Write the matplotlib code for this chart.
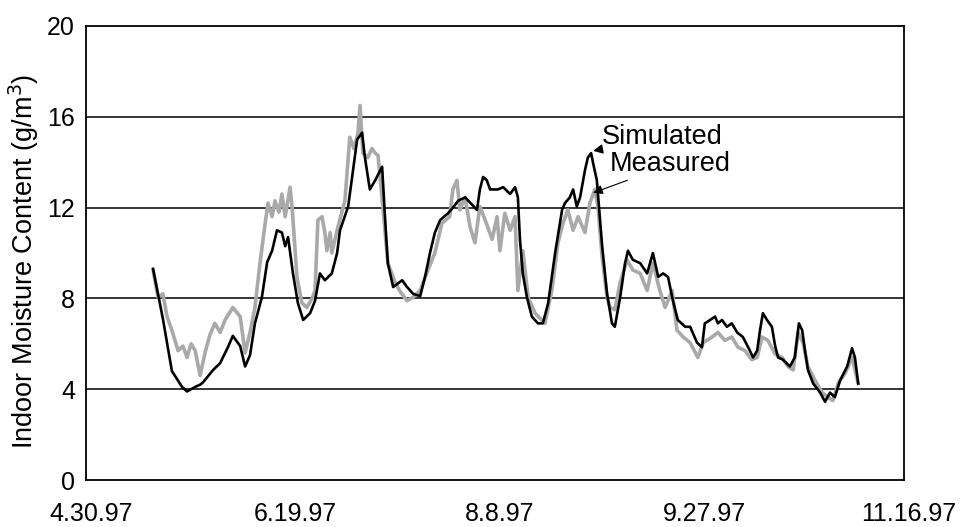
import matplotlib
matplotlib.use("Agg")
import matplotlib.pyplot as plt
import matplotlib.transforms as mtransforms

plt.rcParams['font.family'] = ['Liberation Sans', 'DejaVu Sans']

# days since 4.30.97
sim_days = [16.4, 18.8, 21.0, 23.5, 24.7, 26.7, 27.9, 28.6, 31.1, 32.8, 34.7, 35.9, 37.7, 38.9,
            40.1, 41.3, 43.0, 44.3, 45.5, 46.7, 47.9, 48.7, 49.4, 50.6, 51.8, 53.1, 54.8, 56.0,
            57.2, 58.4, 60.1, 61.4, 62.1, 64.1, 66.3, 67.5, 68.2, 69.4, 70.7, 72.4, 73.1, 73.8,
            75.1, 77.3, 78.5, 80.0, 81.7, 82.9, 84.1, 85.3, 86.6, 88.5, 89.5, 91.0, 92.7, 95.6,
            96.3, 97.1, 98.0, 98.8, 100.7, 102.0, 103.7, 104.9, 105.6, 106.1, 106.8, 107.8,
            109.0, 110.5, 111.7, 113.0, 114.7, 116.4, 117.1, 118.3, 119.1, 120.0, 120.8, 122.0,
            122.7, 123.5, 124.0, 124.9, 126.2, 127.4, 128.6, 129.3, 130.6, 131.8, 132.5, 133.7,
            135.5, 137.2, 138.6, 139.9, 141.1, 142.3, 143.5, 144.7, 146.5, 147.7, 149.4, 150.6,
            151.3, 152.6, 153.8, 154.5, 155.5, 156.7, 157.9, 159.2, 160.6, 161.9, 163.1, 164.1,
            164.8, 165.5, 166.5, 167.7, 168.5, 169.2, 170.4, 172.1, 173.3, 174.3, 175.1, 175.8,
            176.5, 177.8, 179.5, 180.7, 181.9, 183.1, 184.4, 186.1, 187.3, 188.0, 188.8]
simulated = [9.3, 7.1, 4.8, 4.1, 3.9, 4.1, 4.2, 4.3, 4.85, 5.15, 5.85, 6.35, 5.9, 5.0,
             5.5, 6.9, 8.05, 9.6, 10.1, 11.0, 10.9, 10.3, 10.7, 9.1, 7.8, 7.05, 7.35, 7.9,
             9.1, 8.8, 9.1, 10.0, 11.0, 12.05, 15.0, 15.3, 14.2, 12.8, 13.2, 13.8, 11.6, 9.55,
             8.5, 8.8, 8.5, 8.2, 8.1, 8.95, 10.0, 10.9, 11.45, 11.75, 11.95, 12.3, 12.45, 11.9,
             12.8, 13.35, 13.2, 12.8, 12.8, 12.9, 12.6, 12.9, 12.45, 10.6, 9.1, 8.05,
             7.2, 6.9, 6.9, 7.8, 10.0, 11.9, 12.2, 12.45, 12.8, 12.05, 12.45, 13.65,
             14.2, 14.4, 13.95, 13.2, 10.3, 8.2, 6.9, 6.75, 8.05, 9.55, 10.1, 9.7,
             9.55, 9.1, 10.0, 8.95, 9.1, 8.95, 7.9, 7.05, 6.75, 6.75, 6.05, 5.85,
             6.9, 7.05, 7.2, 6.9, 7.05, 6.75, 6.9, 6.5, 6.3, 5.85, 5.4, 5.7,
             6.6, 7.35, 7.05, 6.75, 5.9, 5.4, 5.3, 5.0, 5.4, 6.9, 6.6, 5.7,
             4.85, 4.25, 3.85, 3.45, 3.85, 3.65, 4.4, 5.0, 5.8, 5.4, 4.25]

meas_days = [16.4, 17.6, 18.8, 19.8, 21.0, 22.5, 23.7, 24.7, 25.7, 26.7, 27.9, 29.1, 30.3, 31.5,
             32.8, 34.0, 35.9, 37.7, 38.9, 40.1, 41.3, 42.5, 43.8, 44.5, 45.5, 46.2, 47.2, 47.9,
             48.7, 49.9, 50.4, 51.6, 52.8, 54.0, 55.3, 56.0, 56.7, 57.7, 58.4, 58.9, 59.7, 60.1,
             61.6, 63.3, 64.5, 65.5, 66.5, 67.0, 67.7, 68.9, 69.9, 70.7, 71.4, 72.6, 73.8, 75.6,
             76.8, 78.5, 80.0, 81.7, 83.6, 85.3, 87.0, 88.9, 89.7, 90.7, 91.4, 92.7, 93.9, 95.1,
             96.3, 97.6, 99.3, 100.5, 101.2, 102.4, 103.7, 104.9, 105.6, 106.8, 108.1, 109.8,
             112.2, 113.9, 115.4, 116.6, 117.8, 119.1, 120.3, 122.0, 123.2, 124.4, 125.2, 126.2,
             127.4, 128.1, 129.3, 130.6, 132.3, 133.7, 135.5, 137.2, 138.6, 140.3, 141.6, 143.3,
             144.5, 146.0, 147.7, 149.6, 150.9, 153.1, 154.5, 156.2, 157.9, 159.4, 161.1, 162.8,
             164.1, 165.3, 166.7, 168.5, 170.2, 171.6, 172.9, 174.1, 175.3, 176.5, 178.2, 180.0,
             181.4, 182.6, 183.9, 185.6, 187.3, 188.8]
measured = [9.25, 8.05, 8.2, 7.2, 6.6, 5.7, 5.9, 5.4, 6.0, 5.7, 4.6, 5.6, 6.4, 6.9,
            6.5, 7.05, 7.6, 7.2, 5.6, 6.5, 7.6, 9.5, 11.3, 12.2, 11.6, 12.3, 11.8, 12.6,
            11.6, 12.9, 12.0, 8.9, 7.8, 7.6, 8.0, 8.35, 11.45, 11.6, 10.9, 10.1, 10.9, 10.0,
            11.15, 12.3, 15.1, 14.6, 15.3, 16.5, 14.4, 14.2, 14.6, 14.4, 14.3, 12.0, 9.55, 8.7,
            8.3, 7.9, 8.05, 8.35, 9.25, 10.0, 11.3, 11.6, 12.8, 13.2, 11.9, 12.45, 11.15, 10.45,
            12.05, 11.45, 10.6, 11.6, 10.1, 11.75, 11.0, 11.6, 8.35, 10.1, 8.05, 7.35,
            6.9, 8.35, 10.45, 11.3, 11.9, 11.0, 11.6, 10.9, 12.2, 12.8, 12.0, 9.8,
            8.05, 7.6, 7.5, 8.7, 9.7, 9.25, 9.1, 8.35, 9.55, 8.35, 7.6, 8.35,
            6.6, 6.3, 6.05, 5.4, 6.05, 6.3, 6.5, 6.15, 6.3, 5.85, 5.7, 5.3,
            5.4, 6.3, 6.15, 5.55, 5.4, 5.0, 4.85, 6.5, 6.05, 5.0, 4.4, 3.85,
            3.65, 3.5, 4.25, 4.7, 5.4, 4.25]

x_ticks = [0, 50, 100, 150, 200]
x_labels = ['4.30.97', '6.19.97', '8.8.97', '9.27.97', '11.16.97']
y_ticks = [0, 4, 8, 12, 16, 20]

W, H = 962, 527
fig = plt.figure(figsize=(W / 100, H / 100), dpi=100)
ax = fig.add_axes([86 / W, 1 - 480 / H, 818 / W, 454 / H])

for yv in y_ticks[1:-1]:
    ax.axhline(yv, color='black', lw=1.1, zorder=1)

ax.plot(sim_days, simulated, color='black', lw=1.9, zorder=3, solid_joinstyle='round')
ax.plot(meas_days, measured, color='#a9a9a9', lw=2.6, zorder=2, solid_joinstyle='round')

ax.set_xlim(0, 200)
ax.set_ylim(0, 20)
ax.set_xticks(x_ticks)
ax.set_xticklabels(x_labels)
ax.set_yticks(y_ticks)
ax.tick_params(axis='both', length=0, labelsize=18)
ax.tick_params(axis='x', pad=16)
ax.tick_params(axis='y', pad=8)
offset = mtransforms.ScaledTranslation(5 / 100, 0, fig.dpi_scale_trans)
for lab in ax.get_xticklabels():
    lab.set_transform(lab.get_transform() + offset)

for s in ax.spines.values():
    s.set_linewidth(1.3)
    s.set_color('black')

ax.set_ylabel('Indoor Moisture Content (g/m$^3$)', fontsize=19.5, va='center')
ax.yaxis.set_label_coords((24 - 86) / 818, (480 - 261) / 454)

ax.annotate('Simulated', xy=(124.0, 14.5), xytext=(126.2, 15.1), fontsize=19.5,
            va='center', ha='left',
            arrowprops=dict(arrowstyle='-|>', color='black', lw=1.0, mutation_scale=14,
                            shrinkA=0, shrinkB=0))
ax.annotate('Measured', xy=(124.0, 12.65), xytext=(128.1, 13.9), fontsize=19.5,
            va='center', ha='left',
            arrowprops=dict(arrowstyle='-|>', color='black', lw=0.8, mutation_scale=14,
                            shrinkA=0, shrinkB=0))

fig.savefig('out.png', dpi=100)
